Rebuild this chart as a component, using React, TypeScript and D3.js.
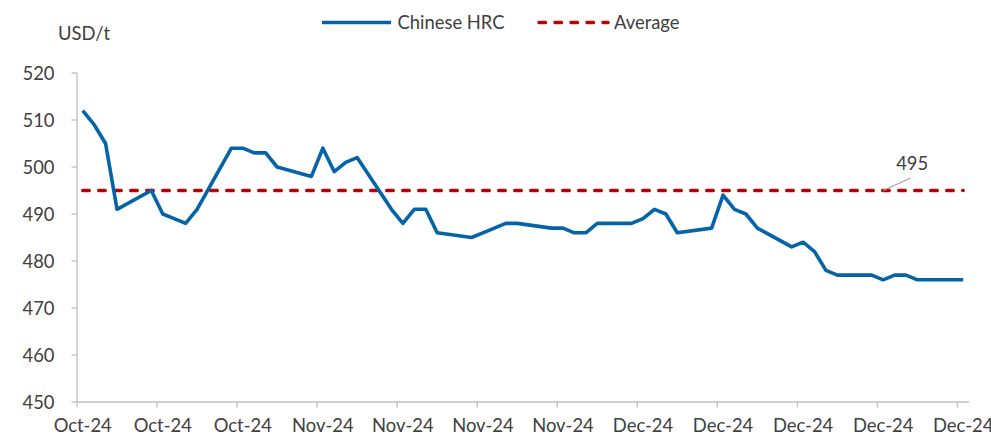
import React from "react";
import * as d3 from "d3";

const dates: string[] = [
  "2024-10-15","2024-10-16","2024-10-17","2024-10-18",
  "2024-10-21","2024-10-22","2024-10-23","2024-10-24","2024-10-25",
  "2024-10-28","2024-10-29","2024-10-30","2024-10-31","2024-11-01",
  "2024-11-04","2024-11-05","2024-11-06","2024-11-07","2024-11-08",
  "2024-11-11","2024-11-12","2024-11-13","2024-11-14","2024-11-15",
  "2024-11-18","2024-11-19","2024-11-20","2024-11-21","2024-11-22",
  "2024-11-25","2024-11-26","2024-11-27","2024-11-28","2024-11-29",
  "2024-12-02","2024-12-03","2024-12-04","2024-12-05","2024-12-06",
  "2024-12-09","2024-12-10","2024-12-11","2024-12-12","2024-12-13",
  "2024-12-16","2024-12-17","2024-12-18","2024-12-19","2024-12-20",
  "2024-12-23","2024-12-24","2024-12-25","2024-12-26","2024-12-27",
  "2024-12-30","2024-12-31",
];

const hrcValues: number[] = [
  512, 509, 505, 491,
  495, 490, 489, 488, 491,
  504, 504, 503, 503, 500,
  498, 504, 499, 501, 502,
  491, 488, 491, 491, 486,
  485, 486, 487, 488, 488,
  487, 487, 486, 486, 488,
  488, 489, 491, 490, 486,
  487, 494, 491, 490, 487,
  483, 484, 482, 478, 477,
  477, 476, 477, 477, 476,
  476, 476,
];

const averageValue = 495;
const yTicks: number[] = [450, 460, 470, 480, 490, 500, 510, 520];
const seriesNames: string[] = ["Chinese HRC", "Average"];
const yAxisTitle = "USD/t";

const W = 991;
const H = 435;
const FONT = "Lato, 'Open Sans', sans-serif";
const FS = 18.4;
const TEXT = "#404040";
const AXIS = "#BFBFBF";
const BLUE = "#0563A8";
const RED = "#C00000";

export default function App() {
  const parse = (s: string) => new Date(s + "T12:00:00Z");
  const start = new Date("2024-10-15T00:00:00Z");
  const end = new Date("2025-01-01T00:00:00Z");

  const x = d3.scaleUtc().domain([start, end]).range([77, 968.9]);
  const y = d3.scaleLinear().domain([450, 520]).range([402, 73]);

  const pts = dates.map((d, i) => ({ d: parse(d), v: hrcValues[i] }));
  const line = d3
    .line<{ d: Date; v: number }>()
    .x((p) => x(p.d))
    .y((p) => y(p.v));

  const ticks = d3.utcTuesday.range(start, new Date("2025-01-01T00:00:01Z"));
  const fmt = d3.utcFormat("%b-%y");
  const half = 12 * 3600 * 1000;

  const avgX1 = x(pts[0].d);
  const avgX2 = x(pts[pts.length - 1].d);
  const avgY = y(averageValue);
  const labelDate = parse("2024-12-24");

  return (
    <svg
      width={W}
      height={H}
      style={{ position: "absolute", left: 0, top: 0, background: "#fff" }}
      fontFamily={FONT}
    >
      {/* Legend */}
      <line x1={322} x2={391} y1={22.5} y2={22.5} stroke={BLUE} strokeWidth={3.5} />
      <text x={397.5} y={29} fontSize={FS} fill={TEXT}>{seriesNames[0]}</text>
      <line x1={539} x2={608} y1={22.5} y2={22.5} stroke={RED} strokeWidth={3.5}
        strokeDasharray="6.5 9.5" strokeLinecap="round" />
      <text x={614} y={29} fontSize={FS} fill={TEXT}>{seriesNames[1]}</text>

      {/* Y axis title */}
      <text x={58} y={39.5} fontSize={FS} fill={TEXT}>{yAxisTitle}</text>

      {/* Y axis */}
      <line x1={77} x2={77} y1={y(520)} y2={y(450)} stroke={AXIS} strokeWidth={1.3} />
      {yTicks.map((t) => (
        <g key={t}>
          <line x1={71.5} x2={77} y1={y(t)} y2={y(t)} stroke={AXIS} strokeWidth={1.3} />
          <text x={54.5} y={y(t)} dy="0.36em" textAnchor="end" fontSize={FS} fill={TEXT}>
            {t}
          </text>
        </g>
      ))}

      {/* X axis */}
      <line x1={77} x2={968.9} y1={y(450)} y2={y(450)} stroke={AXIS} strokeWidth={1.3} />
      {ticks.map((t) => (
        <g key={t.toISOString()}>
          <line x1={x(t)} x2={x(t)} y1={y(450)} y2={y(450) + 5.5} stroke={AXIS} strokeWidth={1.3} />
          <text
            x={x(new Date(t.getTime() + half))}
            y={432}
            textAnchor="middle"
            fontSize={FS}
            fill={TEXT}
          >
            {fmt(t)}
          </text>
        </g>
      ))}

      {/* Average line */}
      <line x1={avgX1} x2={avgX2} y1={avgY} y2={avgY} stroke={RED} strokeWidth={3.5}
        strokeDasharray="6.5 9.5" strokeLinecap="round" />

      {/* Series */}
      <path d={line(pts) || ""} fill="none" stroke={BLUE} strokeWidth={3.6} strokeLinejoin="round" />

      {/* Average label */}
      <line x1={x(labelDate)} x2={x(labelDate) + 27.5} y1={avgY} y2={avgY - 12.5}
        stroke="#A6A6A6" strokeWidth={1.2} />
      <text x={x(labelDate) + 29} y={170} textAnchor="middle" fontSize={FS} fill={TEXT}>
        {averageValue}
      </text>
    </svg>
  );
}
